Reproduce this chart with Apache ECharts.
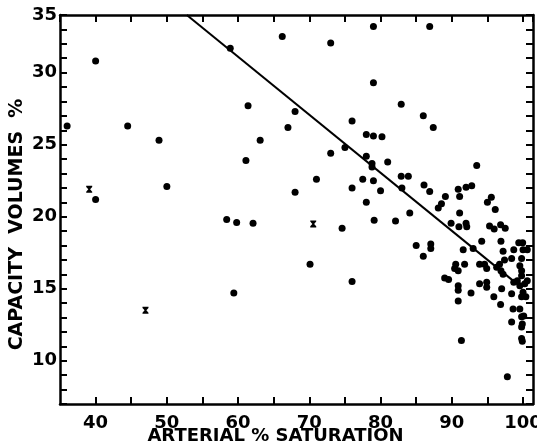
<!DOCTYPE html>
<html>
<head>
<meta charset="utf-8">
<script src="https://cdn.jsdelivr.net/npm/echarts@6/dist/echarts.min.js"></script>
<style>html,body{margin:0;padding:0;background:#fff}#c{width:537px;height:448px}</style>
</head>
<body>
<div id="c"></div>
<script>
// Filled-dot observations: arterial % saturation and capacity volumes %
const dotSaturation = [
  36.0, 40.0, 40.0, 44.5, 48.9, 50.0, 58.4, 59.8, 62.1, 59.4,
  58.9, 61.4, 63.1, 61.1, 66.2, 73.0, 79.0, 79.0, 86.9, 82.9,
  86.0, 87.4, 68.0, 67.0, 76.0, 78.0, 79.0, 80.2, 75.0, 73.0,
  78.0, 78.8, 78.8, 81.0, 71.0, 77.5, 79.0, 76.0, 80.0, 82.9,
  83.9, 83.0, 68.0, 78.0, 84.1, 86.1, 86.9, 89.1, 88.55, 88.1,
  90.9, 91.1, 92.0, 92.8, 93.5, 91.1, 95.0, 95.55, 96.1, 79.1,
  82.1, 74.6, 70.1, 76.0, 85.0, 87.05, 87.05, 86.0, 89.0, 89.55,
  89.9, 91.0, 92.0, 92.1, 95.3, 95.95, 96.85, 97.5, 94.2, 96.9,
  99.4, 99.95, 91.6, 93.0, 97.2, 98.7, 100.0, 100.6, 98.4, 99.8,
  97.4, 96.7, 96.3, 90.55, 90.4, 90.9, 91.8, 93.9, 94.6, 94.9,
  99.55, 99.8, 99.8, 96.9, 97.2, 90.9, 90.9, 92.7, 93.9, 94.9,
  94.9, 97.0, 98.7, 99.2, 99.55, 100.25, 100.6, 100.0, 98.4, 95.9,
  100.4, 99.8, 90.9, 96.85, 98.6, 99.55, 100.1, 99.8, 98.4, 99.9,
  99.8, 91.35, 99.8, 99.9, 97.8
];
const dotCapacity = [
  26.3, 30.8, 21.2, 26.3, 25.3, 22.1, 19.8, 19.6, 19.55, 14.7,
  31.7, 27.7, 25.3, 23.9, 32.5, 32.05, 33.2, 29.3, 33.2, 27.8,
  27.0, 26.2, 27.3, 26.2, 26.65, 25.7, 25.6, 25.55, 24.8, 24.4,
  24.2, 23.7, 23.45, 23.8, 22.6, 22.6, 22.5, 22.0, 21.8, 22.8,
  22.8, 22.0, 21.7, 21.0, 20.25, 22.2, 21.75, 21.4, 20.9, 20.6,
  21.9, 21.4, 22.05, 22.15, 23.55, 20.25, 21.0, 21.35, 20.5, 19.75,
  19.7, 19.2, 16.7, 15.5, 18.0, 18.1, 17.8, 17.25, 15.75, 15.65,
  19.55, 19.3, 19.55, 19.3, 19.35, 19.15, 19.45, 19.2, 18.3, 18.3,
  18.2, 18.2, 17.7, 17.8, 17.6, 17.7, 17.7, 17.7, 17.1, 17.1,
  17.0, 16.7, 16.5, 16.7, 16.4, 16.25, 16.7, 16.7, 16.7, 16.4,
  16.6, 16.25, 15.9, 16.25, 16.0, 15.2, 14.9, 14.7, 15.35, 15.1,
  15.45, 15.0, 15.45, 15.55, 15.2, 15.35, 15.55, 14.75, 14.65, 14.45,
  14.45, 14.45, 14.15, 13.9, 13.6, 13.6, 13.1, 13.05, 12.7, 12.55,
  12.35, 11.4, 11.55, 11.35, 8.9
];
// Cross-marked observations
const crossSaturation = [39.1, 47.0, 70.55];
const crossCapacity = [21.9, 13.5, 19.5];
// Fitted line end points
const fitSaturation = [52.8, 99.5];
const fitCapacity = [34.0, 15.2];
// Tick labels
const xTickLabels = [40, 50, 60, 70, 80, 90, 100];
const yTickLabels = [10, 15, 20, 25, 30];
const yTopLabel = '35';

const zip = (a, b) => a.map((v, i) => [v, b[i]]);
const FONT = 'DejaVu Sans';
const mkLine = () => ({ show: true, onZero: false, lineStyle: { color: '#000', width: 2.5 } });
const mkTick = () => ({ show: true, inside: true, length: 7, lineStyle: { color: '#000', width: 2 } });

const chart = echarts.init(document.getElementById('c'), null, { renderer: 'canvas' });
chart.setOption({
  backgroundColor: '#fff',
  animation: false,
  grid: { left: 60, right: 4, top: 15, bottom: 44, containLabel: false, outerBoundsMode: 'none' },
  xAxis: [
    {
      type: 'value', min: 35, max: 101.4, interval: 5, position: 'bottom',
      axisLine: mkLine(), axisTick: mkTick(),
      axisLabel: {
        show: true, color: '#000', fontFamily: FONT, fontWeight: 'bold', fontSize: 18, margin: 10,
        showMaxLabel: false, showMinLabel: false,
        formatter: v => xTickLabels.includes(v) ? String(v) : ''
      },
      splitLine: { show: false },
      name: 'ARTERIAL % SATURATION', nameLocation: 'middle', nameGap: 23, nameMoveOverlap: false,
      nameTextStyle: { color: '#000', fontFamily: FONT, fontWeight: 'bold', fontSize: 18, padding: [0, 42, 0, 0] }
    },
    {
      type: 'value', min: 35, max: 101.4, interval: 5, position: 'top',
      axisLine: mkLine(), axisTick: mkTick(),
      axisLabel: { show: false },
      splitLine: { show: false }
    }
  ],
  yAxis: [
    {
      type: 'value', min: 7, max: 34, interval: 1, position: 'left',
      axisLine: mkLine(), axisTick: mkTick(),
      axisLabel: {
        show: true, color: '#000', fontFamily: FONT, fontWeight: 'bold', fontSize: 18, margin: 3,
        showMaxLabel: true,
        formatter: v => v === 34 ? yTopLabel : (yTickLabels.includes(v) ? String(v) : '')
      },
      splitLine: { show: false },
      name: 'CAPACITY  VOLUMES  %', nameLocation: 'middle', nameGap: 33, nameMoveOverlap: false,
      nameTextStyle: { color: '#000', fontFamily: FONT, fontWeight: 'bold', fontSize: 19, padding: [0, 30, 0, 0] }
    },
    {
      type: 'value', min: 7, max: 34, interval: 1, position: 'right',
      axisLine: mkLine(), axisTick: mkTick(),
      axisLabel: { show: false },
      splitLine: { show: false }
    }
  ],
  series: [
    {
      type: 'line', xAxisIndex: 0, yAxisIndex: 0,
      data: zip(fitSaturation, fitCapacity),
      showSymbol: false, symbol: 'none',
      lineStyle: { color: '#000', width: 2 }, z: 3
    },
    {
      type: 'scatter', xAxisIndex: 0, yAxisIndex: 0,
      data: zip(dotSaturation, dotCapacity),
      symbol: 'circle', symbolSize: 7,
      itemStyle: { color: '#000', opacity: 1 }, z: 4
    },
    {
      type: 'scatter', xAxisIndex: 0, yAxisIndex: 0,
      data: zip(crossSaturation, crossCapacity),
      symbol: 'path://M0,0 L10,0 L10,2 L6.5,6 L10,10 L10,12 L0,12 L0,10 L3.5,6 L0,2 Z',
      symbolSize: [6, 7],
      itemStyle: { color: '#000', opacity: 1 }, z: 4
    }
  ]
});
</script>
</body>
</html>
